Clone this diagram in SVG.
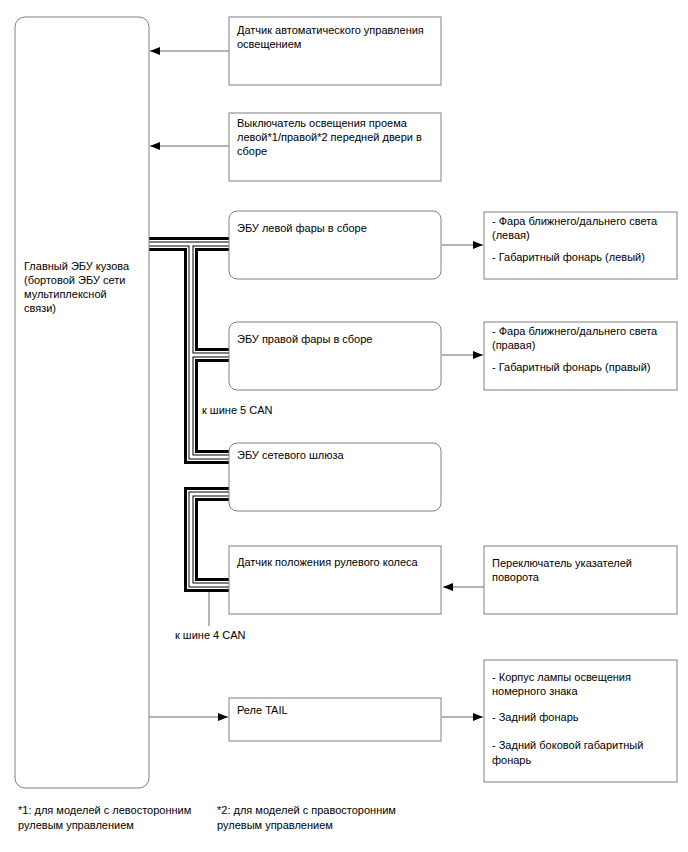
<svg xmlns="http://www.w3.org/2000/svg" width="688" height="852" viewBox="0 0 688 852">
<defs>
<style>
text{font-family:"Liberation Sans",Arial,sans-serif;font-size:11px;fill:#000}
.box{fill:#fff;stroke:#808080;stroke-width:1}
.ln{fill:none;stroke:#666;stroke-width:1}
.b1{fill:none;stroke:#000;stroke-width:14}
.b2{fill:none;stroke:#fff;stroke-width:8}
.b3{fill:none;stroke:#000;stroke-width:5}
.b4{fill:none;stroke:#fff;stroke-width:3}
</style>
<marker id="ah" viewBox="0 0 10 8" refX="10" refY="4" markerWidth="10" markerHeight="8" markerUnits="userSpaceOnUse" orient="auto">
<path d="M0,0 L10,4 L0,8 Z" fill="#000"/>
</marker>
</defs>
<rect width="688" height="852" fill="#fff"/>

<g id="connectors">
<line class="ln" x1="229" y1="51" x2="150" y2="51" marker-end="url(#ah)"/>
<line class="ln" x1="229" y1="146" x2="150" y2="146" marker-end="url(#ah)"/>
<line class="ln" x1="442" y1="245" x2="483" y2="245" marker-end="url(#ah)"/>
<line class="ln" x1="442" y1="355" x2="483" y2="355" marker-end="url(#ah)"/>
<line class="ln" x1="484" y1="587" x2="443" y2="587" marker-end="url(#ah)"/>
<line class="ln" x1="149" y1="717" x2="228" y2="717" marker-end="url(#ah)"/>
<line class="ln" x1="442" y1="717" x2="483" y2="717" marker-end="url(#ah)"/>
<g id="bus5">
<path class="b1" d="M149,244 H229 M191,244 V457 H229 M191,355 H229"/>
<path class="b2" d="M149,244 H229 M191,244 V457 H229 M191,355 H229"/>
<path class="b3" d="M149,244 H229 M191,244 V457 H229 M191,355 H229"/>
<path class="b4" d="M149,244 H229 M191,244 V457 H229 M191,355 H229"/>
</g>
<g id="bus4">
<path class="b1" d="M229,494 H191 V585 H229"/>
<path class="b2" d="M229,494 H191 V585 H229"/>
<path class="b3" d="M229,494 H191 V585 H229"/>
<path class="b4" d="M229,494 H191 V585 H229"/>
<line class="ln" x1="209" y1="592" x2="209" y2="626"/>
</g>
</g>

<g id="main-ecu">
<rect class="box" x="15" y="17" width="134" height="771" rx="10"/>
<text x="24" y="270">Главный ЭБУ кузова</text>
<text x="24" y="284">(бортовой ЭБУ сети</text>
<text x="24" y="298">мультиплексной</text>
<text x="24" y="312">связи)</text>
</g>

<g id="light-sensor">
<rect class="box" x="229" y="17" width="212" height="68"/>
<text x="237" y="34">Датчик автоматического управления</text>
<text x="237" y="48">освещением</text>
</g>

<g id="door-switch">
<rect class="box" x="229" y="113" width="212" height="68"/>
<text x="237" y="127">Выключатель освещения проема</text>
<text x="237" y="141">левой*1/правой*2 передней двери в</text>
<text x="237" y="155">сборе</text>
</g>

<g id="left-hl-ecu">
<rect class="box" x="229" y="211" width="212" height="68" rx="8"/>
<text x="237" y="232">ЭБУ левой фары в сборе</text>
</g>

<g id="left-lamps">
<rect class="box" x="484" y="212" width="193" height="67"/>
<text x="492" y="225">- Фара ближнего/дальнего света</text>
<text x="492" y="239">(левая)</text>
<text x="492" y="261">- Габаритный фонарь (левый)</text>
</g>

<g id="right-hl-ecu">
<rect class="box" x="229" y="322" width="212" height="68" rx="8"/>
<text x="237" y="343">ЭБУ правой фары в сборе</text>
</g>

<g id="right-lamps">
<rect class="box" x="484" y="322" width="193" height="68"/>
<text x="492" y="335">- Фара ближнего/дальнего света</text>
<text x="492" y="349">(правая)</text>
<text x="492" y="371">- Габаритный фонарь (правый)</text>
</g>

<g id="can5-label">
<text x="202" y="414">к шине 5 CAN</text>
</g>

<g id="gateway-ecu">
<rect class="box" x="229" y="443" width="212" height="68" rx="8"/>
<text x="237" y="459">ЭБУ сетевого шлюза</text>
</g>

<g id="steering-sensor">
<rect class="box" x="229" y="546" width="212" height="68"/>
<text x="237" y="566">Датчик положения рулевого колеса</text>
</g>

<g id="turn-switch">
<rect class="box" x="484" y="546" width="193" height="68"/>
<text x="492" y="567">Переключатель указателей</text>
<text x="492" y="581">поворота</text>
</g>

<g id="can4-label">
<text x="175" y="639">к шине 4 CAN</text>
</g>

<g id="tail-relay">
<rect class="box" x="229" y="698" width="212" height="43"/>
<text x="237" y="714">Реле TAIL</text>
</g>

<g id="rear-lamps">
<rect class="box" x="484" y="660" width="193" height="122"/>
<text x="492" y="681">- Корпус лампы освещения</text>
<text x="492" y="695">номерного знака</text>
<text x="492" y="721">- Задний фонарь</text>
<text x="492" y="749">- Задний боковой габаритный</text>
<text x="492" y="764">фонарь</text>
</g>

<g id="footnotes">
<text x="18" y="814">*1: для моделей с левосторонним</text>
<text x="18" y="829">рулевым управлением</text>
<text x="217" y="814">*2: для моделей с правосторонним</text>
<text x="217" y="829">рулевым управлением</text>
</g>
</svg>
